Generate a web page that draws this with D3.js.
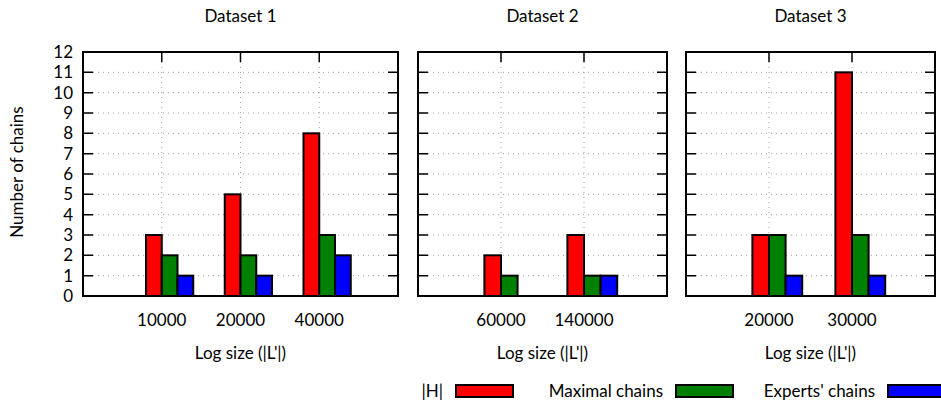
<!DOCTYPE html>
<html>
<head>
<meta charset="utf-8">
<script src="https://cdn.jsdelivr.net/npm/d3@7"></script>
<style>
  body { margin: 0; background: #fff; }
  text { font-family: Lato, "Open Sans", sans-serif; font-size: 17px; fill: #000; }
</style>
</head>
<body>
<div class="container"></div>
<script>
const width = 941;
const height = 404;

const panelTitles = ['Dataset 1', 'Dataset 2', 'Dataset 3'];
const logSizes = [['10000', '20000', '40000'], ['60000', '140000'], ['20000', '30000']];
const hValues = [[3, 5, 8], [2, 3], [3, 11]];
const maximalChains = [[2, 2, 3], [1, 1], [3, 3]];
const expertsChains = [[1, 1, 2], [0, 1], [1, 1]];
const yTicks = d3.range(0, 13);
const seriesNames = ['|H|', 'Maximal chains', "Experts' chains"];
const seriesColors = ['#ff0000', '#008000', '#0000ff'];

const panelBox = [[83, 398], [418, 667], [686, 935]];
const plotTop = 52, plotBottom = 296;
const tickLen = 10;
const barW = 0.2;

const svg = d3.select('.container')
    .append('svg')
    .attr('width', width)
    .attr('height', height);

const y = d3.scaleLinear().domain([0, 12]).range([plotBottom, plotTop]);

panelTitles.forEach((title, p) => {
    const cats = logSizes[p];
    const x = d3.scaleLinear()
        .domain([0, cats.length + 1])
        .range(panelBox[p]);
    const G = svg.append('g');
    const [x0, x1] = panelBox[p];

    // grid
    G.selectAll('.hgrid')
        .data(yTicks.filter(d => d > 0 && d < 12))
        .join('line')
        .attr('x1', x0).attr('x2', x1)
        .attr('y1', d => y(d)).attr('y2', d => y(d))
        .style('stroke', '#a0a0a0')
        .style('stroke-width', 1)
        .style('stroke-dasharray', '1,4');
    G.selectAll('.vgrid')
        .data(cats)
        .join('line')
        .attr('x1', (d, i) => x(i + 1)).attr('x2', (d, i) => x(i + 1))
        .attr('y1', plotTop).attr('y2', plotBottom)
        .style('stroke', '#a0a0a0')
        .style('stroke-width', 1)
        .style('stroke-dasharray', '1,4');

    // ticks (inside, mirrored)
    G.selectAll('.ytick')
        .data(yTicks)
        .join('path')
        .attr('d', d => `M${x0},${y(d)}h${tickLen}M${x1},${y(d)}h${-tickLen}`)
        .style('stroke', '#000')
        .style('stroke-width', 1.5);
    G.selectAll('.xtick')
        .data(cats)
        .join('path')
        .attr('d', (d, i) => `M${x(i + 1)},${plotTop}v${tickLen}M${x(i + 1)},${plotBottom}v${-tickLen}`)
        .style('stroke', '#000')
        .style('stroke-width', 1.5);

    // bars
    const series = [hValues[p], maximalChains[p], expertsChains[p]];
    series.forEach((vals, s) => {
        G.selectAll('.bar' + s)
            .data(vals.map((v, i) => ({ v, i })).filter(d => d.v > 0))
            .join('rect')
            .attr('x', d => x(d.i + 1 + (s - 1) * barW))
            .attr('y', d => y(d.v))
            .attr('width', x(barW) - x(0))
            .attr('height', d => y(0) - y(d.v))
            .style('fill', seriesColors[s])
            .style('stroke', '#000')
            .style('stroke-width', 2);
    });

    // frame
    G.append('rect')
        .attr('x', x0).attr('y', plotTop)
        .attr('width', x1 - x0).attr('height', plotBottom - plotTop)
        .style('fill', 'none')
        .style('stroke', '#000')
        .style('stroke-width', 2);

    // labels
    if (p === 0) {
        G.selectAll('.ylab')
            .data(yTicks)
            .join('text')
            .attr('x', x0 - 10)
            .attr('y', d => y(d) + 6)
            .attr('text-anchor', 'end')
            .text(d => d);
    }
    G.selectAll('.xlab')
        .data(cats)
        .join('text')
        .attr('x', (d, i) => x(i + 1))
        .attr('y', 326)
        .attr('text-anchor', 'middle')
        .text(d => d);
    G.append('text')
        .attr('x', (x0 + x1) / 2)
        .attr('y', 22)
        .attr('text-anchor', 'middle')
        .text(title);
    G.append('text')
        .attr('x', (x0 + x1) / 2)
        .attr('y', 359)
        .attr('text-anchor', 'middle')
        .text("Log size (|L'|)");
});

svg.append('text')
    .attr('transform', 'translate(23,172) rotate(-90)')
    .attr('text-anchor', 'middle')
    .text('Number of chains');

// legend
const legendX = [456, 676, 888];
const legend = svg.append('g');
seriesNames.forEach((name, s) => {
    legend.append('text')
        .attr('x', legendX[s] - 13)
        .attr('y', 397)
        .attr('text-anchor', 'end')
        .text(name);
    legend.append('rect')
        .attr('x', legendX[s]).attr('y', 385)
        .attr('width', 57).attr('height', 12)
        .style('fill', seriesColors[s])
        .style('stroke', '#000')
        .style('stroke-width', 2);
});
</script>
</body>
</html>
